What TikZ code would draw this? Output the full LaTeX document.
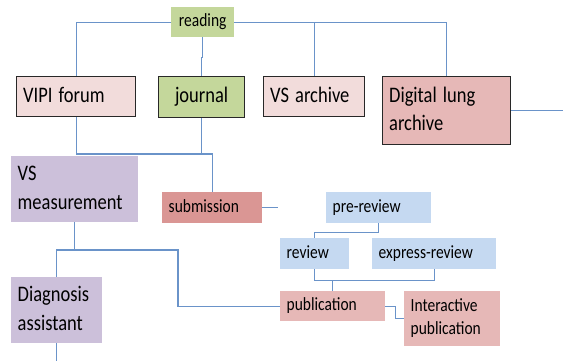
\documentclass[tikz,border=0pt]{standalone}
\usepackage{fontspec}
\usepackage{graphicx}
\setmainfont{Carlito}
\definecolor{pinkA}{HTML}{F2DCDB}
\definecolor{greenA}{HTML}{C4D79B}
\definecolor{roseA}{HTML}{E6B8B7}
\definecolor{lilacA}{HTML}{CCC0DA}
\definecolor{redA}{HTML}{DA9694}
\definecolor{blueA}{HTML}{C5D9F1}
\definecolor{linec}{RGB}{106,147,201}
\definecolor{bordc}{RGB}{40,40,40}
\newcommand{\tx}[1]{\scalebox{1}[1.2]{\begin{tabular}[c]{@{}l@{}}#1\end{tabular}}}
\begin{document}
\begin{tikzpicture}[x=1pt,y=-1pt,
  box/.style={anchor=north west, inner xsep=6.5pt, inner ysep=0pt, align=left, text=black},
  bord/.style={draw=bordc, line width=1.3pt},
  big/.style={font=\fontsize{18.5}{24}\selectfont},
  small/.style={font=\fontsize{15.5}{19}\selectfont},
  conn/.style={draw=linec, line width=1.2pt}]
\useasboundingbox (0,0) rectangle (563,361);
% nodes
\node[box,small,fill=greenA,align=center,minimum width=63pt,minimum height=30pt,text width=50pt] (reading) at (171,7) {\tx{reading}};
\node[box,big,bord,fill=pinkA,minimum width=119pt,minimum height=40pt,text width=106pt] (vipi) at (16,76) {\tx{VIPI forum}};
\node[box,big,bord,fill=greenA,align=center,minimum width=86pt,minimum height=41pt,text width=73pt] (journal) at (158,76) {\tx{journal}};
\node[box,big,bord,fill=pinkA,minimum width=101pt,minimum height=40pt,text width=88pt] (vsa) at (263,76) {\tx{VS archive}};
\node[box,big,bord,fill=roseA,minimum width=128pt,minimum height=68pt,text width=115pt] (dla) at (382,76) {\tx{Digital lung\\archive}};
\node[box,big,fill=lilacA,minimum width=127pt,minimum height=66pt,text width=114pt] (vsm) at (11,156) {\tx{VS\\measurement}};
\node[box,small,fill=redA,minimum width=100pt,minimum height=31pt,text width=87pt] (submission) at (162,192) {\tx{submission}};
\node[box,small,fill=blueA,minimum width=105pt,minimum height=31pt,text width=92pt] (prereview) at (326,192) {\tx{pre-review}};
\node[box,small,fill=blueA,minimum width=69pt,minimum height=31pt,text width=56pt] (review) at (280,238) {\tx{review}};
\node[box,small,fill=blueA,minimum width=124pt,minimum height=31pt,text width=111pt] (express) at (372,238) {\tx{express-review}};
\node[box,small,fill=roseA,minimum width=105pt,minimum height=30pt,text width=92pt] (publication) at (280,291) {\tx{publication}};
\node[box,small,fill=roseA,minimum width=96pt,minimum height=55pt,text width=83pt] (interactive) at (404,291) {\tx{Interactive\\publication}};
\node[box,big,fill=lilacA,minimum width=91pt,minimum height=66pt,text width=78pt] (diag) at (11,277) {\tx{Diagnosis\\assistant}};
% free ends
\coordinate (bus1) at (0,154);
\coordinate (bus2) at (178,250);
\coordinate (dlaend) at (563,0);
\coordinate (subend) at (278,0);
\coordinate (diagend) at (0,361);
% connectors
\draw[conn] (reading.west) -| (vipi.north);
\draw[conn] (reading.east) -| (dla.north);
\draw[conn] (vsa.north) |- (reading.east);
\draw[conn] (reading.south) -- ++(0,20) -| (journal.north);
\draw[conn] (dla.east) -- (dla.east -| dlaend);
\draw[conn] (vipi.south) |- (submission.north |- bus1) -- (submission.north);
\draw[conn] (journal.south) -- (journal.south |- bus1);
\draw[conn] (submission.east) -- (submission.east -| subend);
\draw[conn] (prereview.south) -- ++(0,9) -| (review.north);
\draw[conn] (review.south) -- ++(0,11) -| (express.south);
\draw[conn] (publication.north) -- ++(0,-11);
\draw[conn] (publication.east) -- ++(10,0) |- (interactive.west);
\draw[conn] (vsm.south) |- (diag.north |- bus2) -- (diag.north);
\draw[conn] (vsm.south |- bus2) -- (bus2) |- (publication.west);
\draw[conn] (diag.south) -- (diag.south |- diagend);
\end{tikzpicture}
\end{document}
